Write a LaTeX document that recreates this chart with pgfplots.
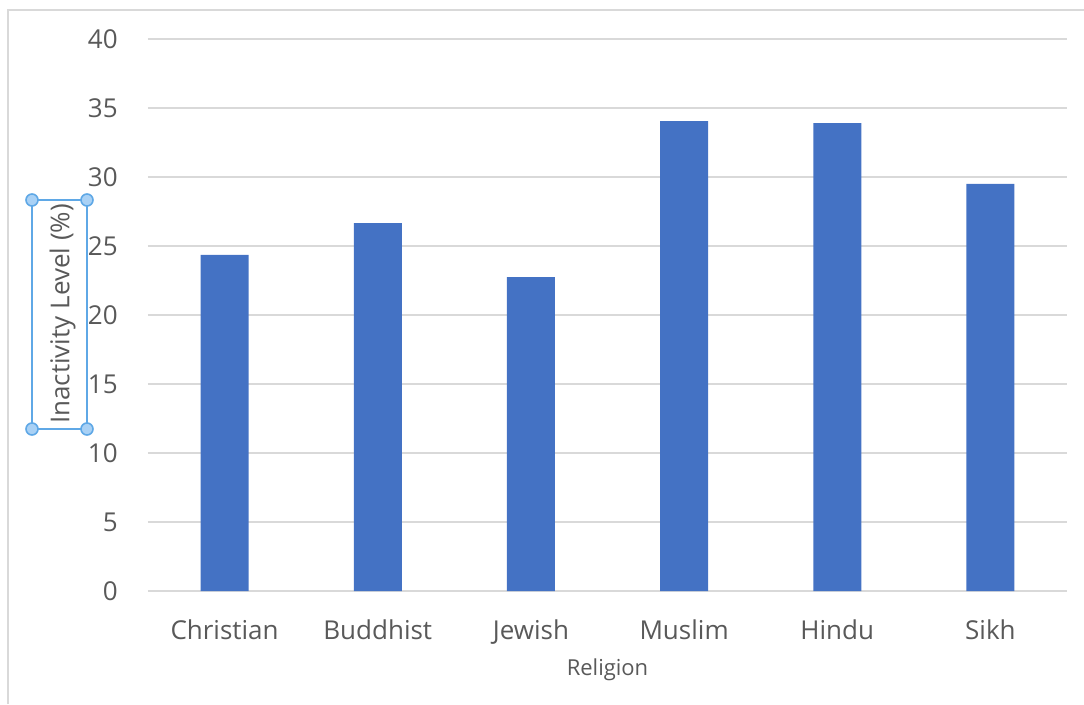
\documentclass[border=0pt]{standalone}
\usepackage{pgfplots}
\pgfplotsset{compat=1.18}
\usepackage{fontspec}
\setmainfont{Open Sans}
\definecolor{bar}{HTML}{4472C4}
\definecolor{txt}{HTML}{595959}
\definecolor{gridc}{HTML}{D9D9D9}
\definecolor{selb}{HTML}{5FA8E6}
\definecolor{self}{HTML}{A9D1F5}
\begin{document}
\begin{tikzpicture}
\begin{axis}[
  scale only axis, width=689.25pt, height=414pt,
  xmin=-0.5, xmax=5.5, ymin=0, ymax=40,
  ytick={0,5,...,40},
  xtick={0,1,2,3,4,5},
  xticklabels={Christian,Buddhist,Jewish,Muslim,Hindu,Sikh},
  ybar, bar width=36pt,
  axis x line*=bottom, axis y line*=left,
  y axis line style={draw=none},
  x axis line style={draw=gridc, line width=0.9pt},
  ymajorgrids, grid style={gridc, line width=0.9pt},
  major tick length=0pt,
  /pgf/number format/assume math mode=true,
  tick label style={font=\fontsize{19.5}{21}\selectfont, text=txt},
  yticklabel style={anchor=east, inner sep=0pt, xshift=-22.5pt},
  xticklabel style={anchor=base, inner sep=0pt, yshift=-36pt},
  xlabel={Religion},
  xlabel style={font=\fontsize{16.5}{18}\selectfont, text=txt, at={(axis description cs:0.5,0)}, anchor=base, inner sep=0pt, yshift=-63.5pt},
]
\addplot[fill=bar, draw=none] coordinates {(0,24.35) (1,26.65) (2,22.75) (3,34.05) (4,33.9) (5,29.5)};
\coordinate (O) at (rel axis cs:0,0);
\end{axis}
\begin{scope}[shift={(O)}, x=0.75pt, y=0.75pt, shift={(-148,-113)}]
\useasboundingbox (0,0) rectangle (1084,704);
\draw[gridc, line width=1.5pt] (8.5,0) -- (8.5,694) -- (1084,694);
\node[rotate=90, text=txt, font=\fontsize{19.5}{21}\selectfont, inner sep=0pt] at (62.5,390) {Inactivity Level (\%)};
\draw[selb, line width=1.5pt] (32,504) rectangle (87,275);
\foreach \p in {(32,504),(87,504),(32,275),(87,275)}
  \filldraw[fill=self, draw=selb, line width=1.2pt] \p circle (6);
\end{scope}
\end{tikzpicture}
\end{document}
